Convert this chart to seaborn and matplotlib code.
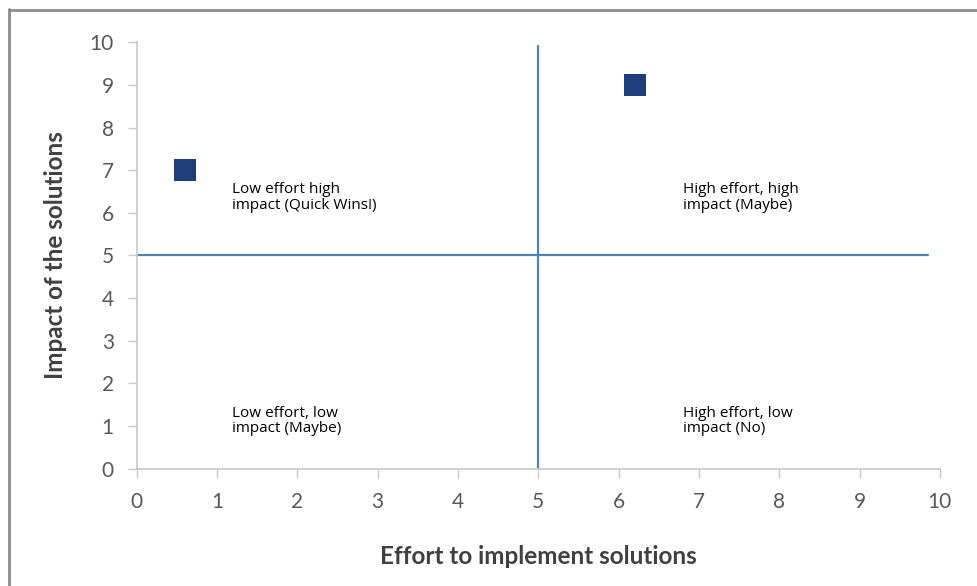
import matplotlib
matplotlib.use("Agg")
import matplotlib.pyplot as plt
from matplotlib.lines import Line2D
import seaborn as sns
import pandas as pd

# solutions plotted in the matrix
effort = [0.6, 6.2]
impact = [7, 9]

# quadrant dividers
split_x = 5
split_y = 5
line_end = 9.9

quadrant_labels = [
    "Low effort high\nimpact (Quick Wins!)",
    "High effort, high\nimpact (Maybe)",
    "Low effort, low\nimpact (Maybe)",
    "High effort, low\nimpact (No)",
]
label_x = [1.18, 6.8, 1.18, 6.8]
label_y = [6.36, 6.36, 1.12, 1.12]

ticks = list(range(0, 11))

sns.set_theme(style="white")
plt.rcParams["font.family"] = ["Lato", "DejaVu Sans"]

df = pd.DataFrame({"effort": effort, "impact": impact})

fig = plt.figure(figsize=(9.77, 5.86), dpi=100)
ax = fig.add_axes([0.140, 0.200, 0.822, 0.728])

ax.plot([split_x, split_x], [0, line_end], color="#4f81bd", lw=1.6, zorder=1)
ax.plot([0, line_end - 0.05], [split_y, split_y], color="#4f81bd", lw=1.6, zorder=1)

sns.scatterplot(data=df, x="effort", y="impact", marker="s", s=260,
                color="#1f3d7a", edgecolor="none", ax=ax, zorder=3)

for txt, x, y in zip(quadrant_labels, label_x, label_y):
    ax.text(x, y, txt, ha="left", va="center", fontsize=11, color="black",
            linespacing=1.05, family=["Open Sans", "DejaVu Sans"])

ax.set_xlim(0, 10)
ax.set_ylim(0, 10)
ax.set_xticks(ticks)
ax.set_yticks(ticks)
ax.tick_params(axis="both", which="both", direction="out", length=6.5, width=1,
               color="#c8c8c8", labelsize=15, labelcolor="#595959",
               left=True, bottom=True)
ax.tick_params(axis="x", pad=10)
ax.tick_params(axis="y", pad=10)

for side in ["top", "right"]:
    ax.spines[side].set_visible(False)
for side in ["left", "bottom"]:
    ax.spines[side].set_color("#c8c8c8")
    ax.spines[side].set_linewidth(1.2)

ax.set_xlabel("Effort to implement solutions", fontsize=17.5, fontweight="bold", color="#404040")
ax.set_ylabel("Impact of the solutions", fontsize=17.5, fontweight="bold", color="#404040")
ax.xaxis.set_label_coords(0.5, -0.178)
ax.yaxis.set_label_coords(-0.087, 0.5)

# frame lines at the top and left edge of the picture
fig.add_artist(Line2D([9 / 977, 9 / 977], [0, 1 - 9 / 586], transform=fig.transFigure,
                      color="#8c8c8c", lw=2))
fig.add_artist(Line2D([9 / 977, 1], [1 - 10 / 586, 1 - 10 / 586], transform=fig.transFigure,
                      color="#8c8c8c", lw=2))

fig.savefig("out.png", dpi=100)
